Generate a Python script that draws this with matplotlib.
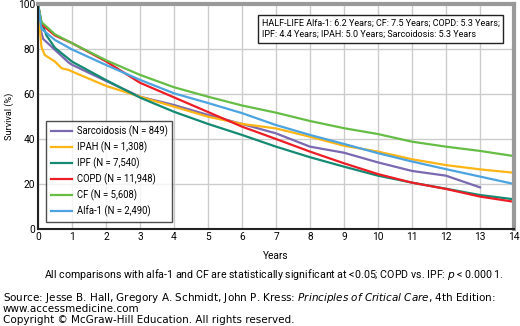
import matplotlib.pyplot as plt

# survival curves (years, survival %)
sarc_x = [0, 0.05, 0.15, 0.5, 0.9, 1, 2, 3, 4, 5, 6, 7, 8, 9, 10, 11, 12, 13]
sarc_y = [100, 90, 84.5, 79.6, 74, 73, 65.8, 58.8, 55.1, 50.7, 46.7, 42.5, 36.6, 33.9, 29.6, 25.8, 23.7, 18.5]

ipah_x = [0, 0.02, 0.1, 0.2, 0.5, 0.7, 0.9, 1, 2, 3, 4, 5, 6, 7, 8, 9, 10, 11, 12, 13, 14]
ipah_y = [100, 95, 81, 77.3, 74.4, 71.4, 70.7, 70, 63.6, 58.8, 54.4, 49.9, 46.7, 44.7, 41, 37, 34.4, 31, 28.4, 26.5, 25]

ipf_x = [0, 0.1, 0.25, 0.5, 1, 2, 3, 4, 5, 6, 7, 8, 9, 10, 11, 12, 13, 14]
ipf_y = [100, 92, 86, 80.5, 74.4, 66.2, 58.4, 52.1, 46.7, 41.8, 36.6, 31.9, 27.7, 23.7, 20.6, 17.9, 15.1, 13.2]

copd_x = [0, 0.1, 0.5, 1, 2, 3, 4, 5, 6, 7, 8, 9, 10, 11, 12, 13, 14]
copd_y = [100, 91, 86, 82.6, 74.5, 65, 58.5, 52, 45.5, 40, 34.4, 29.2, 24.4, 20.6, 17.8, 14.4, 12.1]

cf_x = [0, 0.1, 0.5, 1, 2, 3, 4, 5, 6, 7, 8, 9, 10, 11, 12, 13, 14]
cf_y = [100, 92, 86.5, 82.6, 75, 68.5, 63, 58.8, 54.9, 51.7, 48, 44.8, 42.2, 38.8, 36.6, 34.7, 32.4]

alfa_x = [0, 0.1, 0.5, 1, 2, 3, 4, 5, 6, 7, 8, 9, 10, 11, 12, 13, 14]
alfa_y = [100, 89, 84, 79.8, 72.9, 66.3, 60.3, 56, 51.5, 46.2, 41.8, 37.8, 33.7, 30, 26.6, 23.3, 20]

series = [
    ("Sarcoidosis (N = 849)", sarc_x, sarc_y, "#7a68b0"),
    ("IPAH (N = 1,308)", ipah_x, ipah_y, "#fdb515"),
    ("IPF (N = 7,540)", ipf_x, ipf_y, "#148a73"),
    ("COPD (N = 11,948)", copd_x, copd_y, "#ee1c25"),
    ("CF (N = 5,608)", cf_x, cf_y, "#66bd46"),
    ("Alfa-1 (N = 2,490)", alfa_x, alfa_y, "#4ba3e0"),
]

plt.rcParams["font.family"] = ["Liberation Sans Narrow", "Roboto", "DejaVu Sans"]

fig = plt.figure(figsize=(5.2, 3.26), dpi=100)
W, H = 520, 326
ax = fig.add_axes([38/W, 1 - 229/H, 476/W, 225/H])
rend = fig.canvas.get_renderer()


def fit(t, px, use_height=False):
    # scale a text so that it spans px pixels, like in the reference
    bb = t.get_window_extent(rend)
    w = bb.height if use_height else bb.width
    t.set_fontsize(t.get_fontsize() * px / w)
    return t.get_fontsize()


for lab, xs, ys, col in series:
    ax.plot(xs, ys, color=col, lw=1.6, label=lab)

ax.set_xlim(0, 14)
ax.set_ylim(0, 100)
ax.set_xticks(range(15))
ax.set_yticks(range(0, 101, 20))
ax.grid(True, color="#cccccc", lw=1)
ax.set_axisbelow(True)
for s in ["top", "right"]:
    ax.spines[s].set_color("#999999")
    ax.spines[s].set_linewidth(3)
for s in ["left", "bottom"]:
    ax.spines[s].set_color("#222222")
    ax.spines[s].set_linewidth(1.5)

probe = fig.text(0, 0, "100", fontsize=8)
tick_fs = fit(probe, 17)
probe.remove()

ax.tick_params(length=0, labelsize=tick_fs, pad=2)
yl = ax.set_ylabel("Survival (%)", fontsize=tick_fs, labelpad=3)
fit(yl, 47, use_height=True)
fig.text(276/W, 1 - 256/H, "Years", fontsize=tick_fs, ha="center", va="center")


def make_legend(fs, spacing):
    lg = ax.legend(loc="lower left", bbox_to_anchor=(8/476, 7/225), fontsize=fs,
                   frameon=True, fancybox=False, edgecolor="#222222",
                   handlelength=2.2, handletextpad=0.5, labelspacing=spacing,
                   borderpad=0.5, borderaxespad=0)
    lg.get_frame().set_linewidth(1)
    return lg


leg_fs, leg_sp = 8.0, 0.55
leg = make_legend(leg_fs, leg_sp)
for _ in range(3):
    bb = leg.get_window_extent(rend)
    leg_fs *= 127 / bb.width
    leg = make_legend(leg_fs, leg_sp)
    bb = leg.get_window_extent(rend)
    leg_sp *= 1 + (101 - bb.height) / (5 * leg_fs * 100 / 72)
    leg = make_legend(leg_fs, leg_sp)

hl = ax.text(262/W, 1 - 19/H,
             "HALF-LIFE Alfa-1: 6.2 Years; CF: 7.5 Years; COPD: 5.3 Years;\n"
             "IPF: 4.4 Years; IPAH: 5.0 Years; Sarcoidosis: 5.3 Years",
             transform=fig.transFigure, fontsize=7.5, va="top", ha="left", linespacing=1.3,
             bbox=dict(boxstyle="square,pad=0.4", fc="white", ec="#222222", lw=1))
fit(hl, 237)

foot = fig.text(504/W, 1 - 274/H,
                "All comparisons with alfa-1 and CF are statistically significant at <0.05; "
                "COPD vs. IPF: $\\it{p}$ < 0.000 1.",
                fontsize=8, ha="right", va="center")
fit(foot, 458)

src = fig.text(3/W, 1 - 298/H,
               "Source: Jesse B. Hall, Gregory A. Schmidt, John P. Kress: "
               "$\\it{Principles\\ of\\ Critical\\ Care}$, 4th Edition:",
               fontsize=7, ha="left", va="center", family="DejaVu Sans")
src_fs = fit(src, 497)
fig.text(3/W, 1 - 309/H, "www.accessmedicine.com", fontsize=src_fs,
         ha="left", va="center", family="DejaVu Sans")
fig.text(3/W, 1 - 320/H, "Copyright \u00a9 McGraw-Hill Education. All rights reserved.",
         fontsize=src_fs, ha="left", va="center", family="DejaVu Sans")

fig.savefig("out.png", dpi=100)
